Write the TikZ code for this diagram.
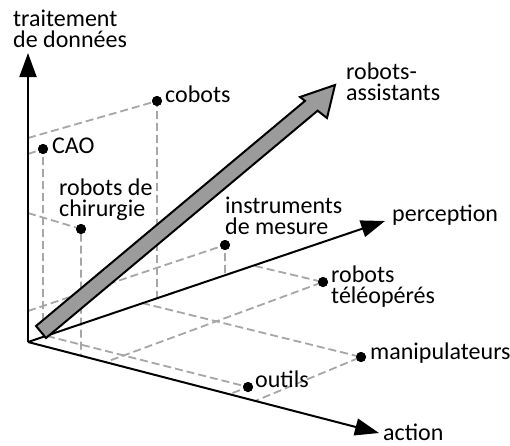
\documentclass[tikz,border=0pt]{standalone}
\usepackage{fontspec}
\setmainfont{Carlito}
\usetikzlibrary{arrows.meta}
\definecolor{dgray}{RGB}{166,166,166}
\definecolor{agray}{RGB}{155,155,155}
\begin{document}
\begin{tikzpicture}[x=1pt,y=-1pt,
  axisline/.style={line width=2pt, -{Triangle[length=24pt,width=17pt]}},
  guide/.style={draw=dgray, line width=1.8pt, dash pattern=on 8pt off 4pt},
  dot/.style={circle, fill=black, inner sep=0pt, minimum size=10pt},
  lbl/.style={font=\fontsize{24}{21}\selectfont, inner sep=0pt, align=left, anchor=base west},
]
\useasboundingbox (0,0) rectangle (510,445);
% axes points
\coordinate (O) at (28,342);
\coordinate (Vt) at (28,53);
\coordinate (At) at (379,433);
\coordinate (Pt) at (385,221);
% data points
\node[dot] (cobots) at (157,101) {};
\node[dot] (cao) at (43,149) {};
\node[dot] (chir) at (81,229) {};
\node[dot] (instr) at (225,245) {};
\node[dot] (tele) at (323,282) {};
\node[dot] (manip) at (361,357) {};
\node[dot] (outils) at (248,387) {};
% projection feet
\coordinate (cobV) at (28,138);   \coordinate (cobP) at (157,298);
\coordinate (caoV) at (28,154);   \coordinate (caoP) at (43,337);
\coordinate (chirV) at (28,213);  \coordinate (chirA) at (81,356);
\coordinate (instrV) at (28,311); \coordinate (instrP) at (225,275);
\coordinate (teleP) at (255,266); \coordinate (teleA) at (106,362);
\coordinate (manipP) at (142,303);\coordinate (manipA) at (255,401);
\coordinate (outP) at (47,336);   \coordinate (outA) at (230,394);
% dashed guides
\draw[guide] (cobV) -- (cobots.center) -- (cobP);
\draw[guide] (caoV) -- (cao.center) -- (caoP);
\draw[guide] (chirV) -- (chir.center) -- (chirA);
\draw[guide] (instrV) -- (instr.center) -- (instrP);
\draw[guide] (teleP) -- (tele.center) -- (teleA);
\draw[guide] (manipP) -- (manip.center) -- (manipA);
\draw[guide] (outP) -- (outils.center) -- (outA);
% redraw dots on top
\foreach \n in {cobots,cao,chir,instr,tele,manip,outils}
  \fill (\n.center) circle (5pt);
% axes
\draw[axisline] (O) -- (Vt);
\draw[axisline] (O) -- (At);
\draw[axisline] (O) -- (Pt);
% big arrow
\draw[line width=2pt, fill=agray, line join=miter]
  (46,338) -- (317.6,110.7) -- (327,118) -- (335,85) -- (300,97) -- (305,100.9) -- (36,326) -- cycle;
% labels
\node[lbl] (lV) at (13,47) {traitement\\de données};
\node[lbl] (lcob) at (165,102) {cobots};
\node[lbl] (lcao) at (52,153) {CAO};
\node[lbl] (lchir) at (59,216) {robots de\\chirurgie};
\node[lbl] (linstr) at (225,234) {instruments\\de mesure};
\node[lbl] (lP) at (392,221) {perception};
\node[lbl] (lass) at (346,100) {robots-\\assistants};
\node[lbl] (ltele) at (331,303) {robots\\téléopérés};
\node[lbl] (lmanip) at (370,359) {manipulateurs};
\node[lbl] (lout) at (255,387) {outils};
\node[lbl] (lA) at (383,440) {action};
\end{tikzpicture}
\end{document}
